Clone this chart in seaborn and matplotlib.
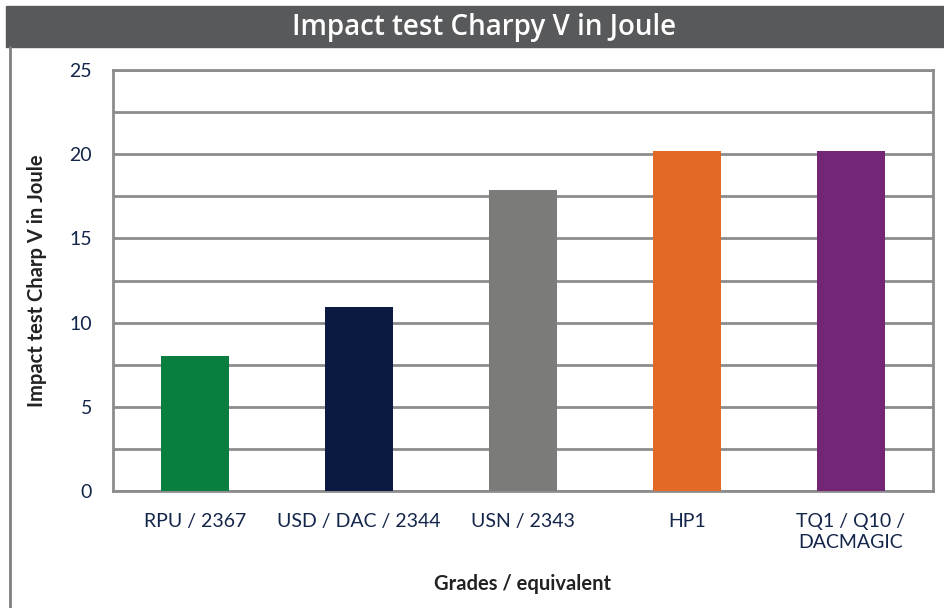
import pandas as pd
import seaborn as sns
import matplotlib.pyplot as plt
import numpy as np
from matplotlib.patches import Rectangle
from matplotlib.lines import Line2D

# Data
grades = ["RPU / 2367", "USD / DAC / 2344", "USN / 2343", "HP1", "TQ1 / Q10 /\nDACMAGIC"]
joule = [8.0, 10.9, 17.9, 20.2, 20.2]
bar_colors = ["#0a7e3f", "#0b1a41", "#7b7b79", "#e36926", "#722675"]

df = pd.DataFrame({"grade": grades, "joule": joule})

sns.set_style("white")
plt.rcParams["font.family"] = ["Lato", "DejaVu Sans"]

fig = plt.figure(figsize=(9.45, 6.08), dpi=100)
ax = fig.add_axes([113 / 945, 117 / 608, 820 / 945, 421 / 608])

sns.barplot(data=df, x="grade", y="joule", hue="grade", palette=bar_colors,
            width=0.41, saturation=1, legend=False, ax=ax, zorder=3,
            linewidth=0, edgecolor="none")

# Axis and grid
ax.set_ylim(0, 25)
ax.set_yticks(np.arange(0, 26, 5))
ax.set_yticks(np.arange(0, 26, 2.5), minor=True)
ax.grid(True, which="both", axis="y", color="#8c8c8c", linewidth=2, zorder=0)
ax.set_axisbelow(True)
for s in ax.spines.values():
    s.set_color("#8c8c8c")
    s.set_linewidth(2)
ax.tick_params(axis="both", which="both", length=0)
ax.tick_params(axis="y", labelsize=14, labelcolor="#14254a", pad=15)
ax.tick_params(axis="x", labelsize=14, labelcolor="#14254a", pad=16)
for lbl in ax.get_xticklabels():
    lbl.set_linespacing(1.3)

ax.set_xlabel("Grades / equivalent", fontsize=14.5, fontweight="bold",
              color="#222222", labelpad=16)
ax.set_ylabel("Impact test Charp V in Joule", fontsize=14.5, fontweight="bold",
              color="#222222", labelpad=16)

# Title band and page border
fig.patches.append(Rectangle((6 / 945, 1 - 47 / 608), 1, 41 / 608,
                             transform=fig.transFigure, color="#58595b", zorder=0))
fig.text(484 / 945, 1 - 27 / 608, "Impact test Charpy V in Joule", color="white",
         fontsize=20, fontweight="semibold", ha="center", va="center",
         family=["Open Sans", "DejaVu Sans"])
fig.add_artist(Line2D([10 / 945, 10 / 945], [0, 1 - 47 / 608],
                      transform=fig.transFigure, color="#7f7f7f", linewidth=2))

fig.savefig("out.png", dpi=100)
